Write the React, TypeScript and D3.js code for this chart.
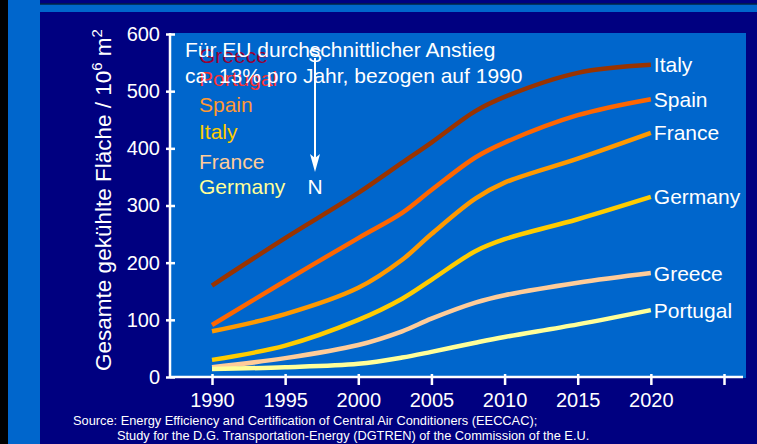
import React, { useEffect, useRef } from "react";
import * as d3 from "d3";

// values (10^6 m2)
const years = [1990, 1995, 2000, 2003, 2005, 2008, 2010, 2015, 2020];
const italy = [160, 243, 322, 375, 410, 465, 490, 532, 546];
const spain = [91, 168, 243, 287, 327, 384, 410, 458, 486];
const france = [80, 110, 156, 205, 250, 312, 340, 382, 427];
const germany = [30, 55, 100, 137, 170, 220, 241, 276, 315];
const greece = [17, 33, 56, 80, 102, 130, 143, 165, 182];
const portugal = [14, 17, 23, 34, 44, 60, 70, 92, 117];

const seriesNames = ["Italy", "Spain", "France", "Germany", "Greece", "Portugal"];
const seriesValues = [italy, spain, france, germany, greece, portugal];
const seriesColors = ["#993300", "#ff6600", "#ff9900", "#ffcc00", "#ffcc99", "#ffff99"];

// the (mismatched) colour key in the top-left corner, as in the original slide
const keyNames = ["Greece", "Portugal", "Spain", "Italy", "France", "Germany"];
const keyColors = ["#990033", "#ff3333", "#ff9933", "#ffcc00", "#ffcc99", "#ffff99"];

const xTicks = [1990, 1995, 2000, 2005, 2010, 2015, 2020, 2025];
const yTicks = [0, 100, 200, 300, 400, 500, 600];

const W = 757;
const H = 444;
const NAVY = "#000080";
const BLUE = "#0066cc";
const FONT = "'Liberation Sans', Arial, sans-serif";

export default function App() {
  const ref = useRef<SVGSVGElement>(null);

  useEffect(() => {
    if (!ref.current) return;
    const svg = d3.select(ref.current);
    svg.selectAll("*").remove();

    // slide background
    svg.append("rect").attr("width", W).attr("height", H).attr("fill", "#000");
    svg.append("rect").attr("x", 8).attr("width", W - 8).attr("height", H).attr("fill", BLUE);
    svg.append("rect").attr("x", 40).attr("y", 12).attr("width", W - 40).attr("height", H - 12).attr("fill", NAVY);
    svg.append("rect").attr("x", 40).attr("y", 0).attr("width", W - 40).attr("height", 3.5).attr("fill", NAVY);
    svg.append("line").attr("x1", 40).attr("x2", W).attr("y1", 4).attr("y2", 4).attr("stroke", "#000").attr("stroke-width", 1);

    const x = d3.scaleLinear().domain([1990, 2025]).range([212, 724]);
    const y = d3.scaleLinear().domain([0, 600]).range([377, 34]);

    const left = 170;
    const right = 746;
    const top = 33;

    // plot area
    svg.append("rect")
      .attr("x", left)
      .attr("y", top)
      .attr("width", right - left)
      .attr("height", y(0) + 1 - top)
      .attr("fill", BLUE);

    // y axis
    const gy = svg.append("g")
      .attr("transform", `translate(${left},0)`)
      .call(d3.axisLeft(y).tickValues(yTicks).tickSize(4).tickPadding(6));
    gy.select(".domain").remove();
    gy.selectAll(".tick line").attr("x1", 5).attr("x2", -4).attr("stroke", "#fff").attr("stroke-width", 2.5);
    gy.selectAll(".tick text")
      .attr("fill", "#fff")
      .style("font", `20px ${FONT}`);

    // x axis
    const gx = svg.append("g")
      .attr("transform", `translate(0,${y(0)})`)
      .call(
        d3.axisBottom(x)
          .tickValues(xTicks)
          .tickSize(8)
          .tickPadding(8)
          .tickFormat((d) => (d === 2025 ? "" : String(d)))
      );
    gx.select(".domain").remove();
    gx.selectAll(".tick line").attr("y1", -3).attr("y2", 8).attr("stroke", "#fff").attr("stroke-width", 2.5);
    gx.selectAll(".tick text")
      .attr("fill", "#fff")
      .style("font", `20px ${FONT}`);

    svg.append("line")
      .attr("x1", left).attr("x2", left)
      .attr("y1", top).attr("y2", y(0) + 1)
      .attr("stroke", "#fff").attr("stroke-width", 2.5);
    svg.append("line")
      .attr("x1", left).attr("x2", 743)
      .attr("y1", y(0)).attr("y2", y(0))
      .attr("stroke", "#fff").attr("stroke-width", 2.5);

    // y title
    const yt = svg.append("text")
      .attr("transform", `translate(111,200) rotate(-90)`)
      .attr("text-anchor", "middle")
      .attr("fill", "#fff")
      .style("font", `22.5px ${FONT}`);
    yt.append("tspan").text("Gesamte gekühlte Fläche / 10");
    yt.append("tspan").attr("dy", -9).style("font-size", "15px").text("6");
    yt.append("tspan").attr("dy", 9).text(" m");
    yt.append("tspan").attr("dy", -9).style("font-size", "15px").text("2");

    // lines
    const line = d3.line<number>()
      .x((_, i) => x(years[i]))
      .y((d) => y(d))
      .curve(d3.curveCatmullRom.alpha(0.5));

    seriesValues.forEach((vals, k) => {
      svg.append("path")
        .attr("d", line(vals))
        .attr("fill", "none")
        .attr("stroke", seriesColors[k])
        .attr("stroke-width", 4.5)
        .attr("stroke-linejoin", "round");

      svg.append("text")
        .attr("x", x(years[years.length - 1]) + 3)
        .attr("y", y(vals[vals.length - 1]))
        .attr("dy", "0.36em")
        .attr("fill", "#fff")
        .style("font", `21px ${FONT}`)
        .text(seriesNames[k]);
    });

    // colour key
    const keyBase = [63, 86, 112, 139, 169, 194];
    keyNames.forEach((name, i) => {
      svg.append("text")
        .attr("x", 199)
        .attr("y", keyBase[i])
        .attr("fill", keyColors[i])
        .style("font", `21px ${FONT}`)
        .text(name);
    });

    // S -> N arrow
    svg.append("text").attr("x", 315).attr("y", 62).attr("text-anchor", "middle")
      .attr("fill", "#fff").style("font", `21px ${FONT}`).text("S");
    svg.append("line").attr("x1", 315).attr("x2", 315).attr("y1", 58).attr("y2", 165)
      .attr("stroke", "#fff").attr("stroke-width", 2);
    svg.append("path").attr("d", "M310,154 L315,172 L320,154 L315,158 Z").attr("fill", "#fff");
    svg.append("text").attr("x", 315).attr("y", 194).attr("text-anchor", "middle")
      .attr("fill", "#fff").style("font", `21px ${FONT}`).text("N");

    // note
    const note = svg.append("text").attr("fill", "#fff").style("font", `21px ${FONT}`);
    note.append("tspan").attr("x", 185).attr("y", 57).text("Für EU durchschnittlicher Anstieg");
    note.append("tspan").attr("x", 185).attr("y", 83).text("ca. 13% pro Jahr, bezogen auf 1990");

    // source
    const src = svg.append("text").attr("fill", "#fff").style("font", `12.8px ${FONT}`);
    src.append("tspan").attr("x", 73).attr("y", 425)
      .text("Source: Energy Efficiency and Certification of Central Air Conditioners (EECCAC);");
    src.append("tspan").attr("x", 117).attr("y", 440)
      .text("Study for the D.G. Transportation-Energy (DGTREN) of the Commission of the E.U.");
  }, []);

  return (
    <svg
      ref={ref}
      width={W}
      height={H}
      style={{ position: "absolute", left: 0, top: 0, display: "block" }}
    />
  );
}
